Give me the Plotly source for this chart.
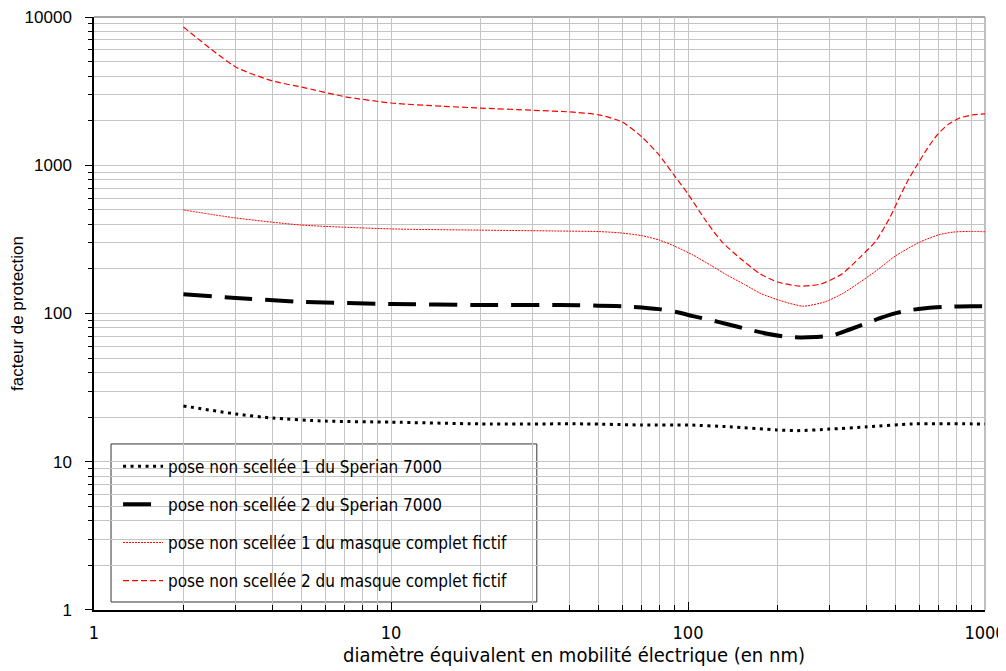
import plotly.graph_objects as go

# ---- données ----
x_sperian_1 = [2, 3, 4, 6, 10, 20, 45, 70, 100, 138, 198, 232, 300, 400, 570, 935, 1000]
y_sperian_1 = [23.8, 21.0, 19.7, 18.8, 18.5, 18.0, 18.0, 17.7, 17.7, 17.2, 16.4, 16.2, 16.6, 17.2, 18.0, 18.0, 18.0]

x_sperian_2 = [2, 3, 5, 10, 20, 37, 50, 65, 80, 92, 104, 120, 135, 160, 185, 210, 238, 270, 306,
               350, 400, 450, 505, 570, 640, 750, 900, 1000]
y_sperian_2 = [135, 127, 120, 116, 114, 114, 113, 111, 107, 102, 96, 90, 85, 78, 73, 70, 69, 69.5, 71,
               78, 86, 94, 101, 106, 109, 111, 112, 112]

x_masque_1 = [2, 3, 5, 10, 20, 37, 50, 59, 70, 80, 90, 104, 120, 135, 155, 175, 205, 244, 290,
              333, 380, 433, 500, 603, 700, 780, 880, 1000]
y_masque_1 = [499, 441, 395, 372, 365, 360, 357, 350, 335, 313, 285, 248, 210, 182, 157, 137, 122, 112, 120,
              137, 163, 196, 245, 303, 340, 354, 358, 356]

x_masque_2 = [2, 3, 4, 5, 7, 10, 15, 20, 30, 40, 50, 60, 70, 80, 90, 100, 115, 130, 150, 175, 200,
              238, 280, 330, 380, 430, 480, 520, 550, 590, 640, 690, 750, 820, 900, 1000]
y_masque_2 = [8570, 4600, 3700, 3370, 2900, 2630, 2500, 2430, 2350, 2290, 2190, 1960, 1550, 1170, 850,
              640, 420, 305, 235, 185, 163, 153, 158, 185, 240, 310, 450, 630, 790, 1000, 1300, 1600,
              1880, 2080, 2180, 2220]

noms = ['pose non scellée 1 du Sperian 7000',
        'pose non scellée 2 du Sperian 7000',
        'pose non scellée 1 du masque complet fictif',
        'pose non scellée 2 du masque complet fictif']

police = 'DejaVu Sans Condensed, DejaVu Sans, sans-serif'
arial = 'Liberation Sans, Arial, sans-serif'

fig = go.Figure()
fig.add_trace(go.Scatter(x=x_sperian_1, y=y_sperian_1, name=noms[0], mode='lines',
                         line=dict(color='black', width=3, dash='3px,4.5px', shape='spline', smoothing=0.6),
                         legendgroup='a'))
fig.add_trace(go.Scatter(x=x_sperian_2, y=y_sperian_2, name=noms[1], mode='lines',
                         line=dict(color='black', width=4, dash='28px,13px', shape='spline', smoothing=0.6),
                         legendgroup='b'))
fig.add_trace(go.Scatter(x=x_masque_1, y=y_masque_1, name=noms[2], mode='lines',
                         line=dict(color='red', width=1, dash='2px,1px', shape='spline', smoothing=0.6),
                         legendgroup='c'))
fig.add_trace(go.Scatter(x=x_masque_2, y=y_masque_2, name=noms[3], mode='lines',
                         line=dict(color='red', width=1.2, dash='6px,3px', shape='spline', smoothing=0.6),
                         legendgroup='d'))

gris = '#c4c4c4'

# la page ajoute 8 px de marge au corps : figure un peu plus petite
fig.update_layout(
    width=998, height=663,
    margin=dict(l=86, r=21, t=9, b=61, autoexpand=False),
    paper_bgcolor='white', plot_bgcolor='white',
    showlegend=True,
    legend=dict(x=0.027, y=0.272, xanchor='left', yanchor='top',
                bgcolor='rgba(0,0,0,0)', borderwidth=0,
                font=dict(family=police, size=17, color='black'),
                tracegroupgap=13, itemwidth=40),
    xaxis=dict(type='log', range=[0, 3], automargin=False,
               tickvals=[1, 10, 100, 1000], ticktext=['1', '10', '100', '1000'],
               tickfont=dict(family=police, size=18, color='black'),
               ticklabelstandoff=6, ticklabeloverflow='allow',
               showline=True, linecolor='black', linewidth=1.5,
               ticks='inside', ticklen=8, tickcolor='black',
               showgrid=True, gridcolor=gris, gridwidth=1,
               minor=dict(dtick='D1', showgrid=True, gridcolor=gris, gridwidth=1,
                          ticks='inside', ticklen=5, tickcolor='black'),
               zeroline=False),
    yaxis=dict(type='log', range=[-0.0001, 4.0001], automargin=False,
               tickvals=[1, 10, 100, 1000, 10000], ticktext=['1', '10', '100', '1000', '10000'],
               tickfont=dict(family=arial, size=17, color='black'),
               ticklabelstandoff=10, ticklabeloverflow='allow',
               showline=True, linecolor='black', linewidth=1.5,
               ticks='outside', ticklen=7, tickcolor='black',
               showgrid=True, gridcolor=gris, gridwidth=1,
               minor=dict(dtick='D1', showgrid=True, gridcolor=gris, gridwidth=1,
                          ticks='outside', ticklen=4, tickcolor='black'),
               title=dict(text='facteur de protection',
                          font=dict(family=arial, size=17, color='black'),
                          standoff=6),
               zeroline=False),
)

# titre de l'axe x (décalé vers la droite comme dans l'original)
fig.add_annotation(text='diamètre équivalent en mobilité électrique (en nm)',
                   xref='paper', yref='paper', x=0.539, y=0, yshift=-45,
                   xanchor='center', yanchor='middle', showarrow=False,
                   font=dict(family=police, size=20, color='black'))

# cadre de la légende
fig.add_shape(type='rect', xref='paper', yref='paper', x0=0.0191, x1=0.497, y0=0.0135, y1=0.280,
              line=dict(color='#333333', width=1), fillcolor='white', layer='between')

# cadre gris haut / droite
fig.add_shape(type='line', xref='paper', yref='paper', x0=0, x1=1, y0=1, y1=1,
              line=dict(color='#888888', width=1.5), layer='below')
fig.add_shape(type='line', xref='paper', yref='paper', x0=1, x1=1, y0=0, y1=1,
              line=dict(color='#aaaaaa', width=1.5), layer='below')

fig.write_html("out.html")
